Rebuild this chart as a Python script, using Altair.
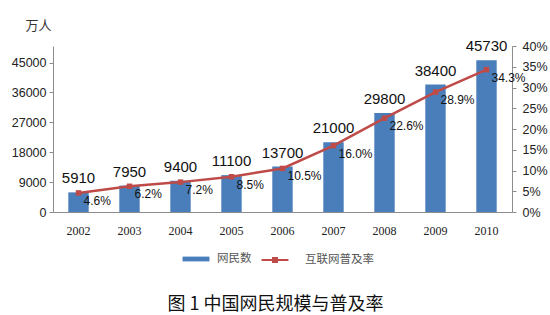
import altair as alt
import pandas as pd

years = ["2002", "2003", "2004", "2005", "2006", "2007", "2008", "2009", "2010"]
netizens = [5910, 7950, 9400, 11100, 13700, 21000, 29800, 38400, 45730]
rates = [4.6, 6.2, 7.2, 8.5, 10.5, 16.0, 22.6, 28.9, 34.3]
left_ticks = [0, 9000, 18000, 27000, 36000, 45000]
right_ticks = [0, 5, 10, 15, 20, 25, 30, 35, 40]
bar_name = "网民数"
line_name = "互联网普及率"
caption = "图 1 中国网民规模与普及率"

df = pd.DataFrame({"year": years, "netizens": netizens, "rate": rates})

BLUE = "#4A7EBB"
RED = "#BE4B48"
AXIS = "#8C8C8C"

base = alt.Chart(df).encode(
    x=alt.X(
        "year:N",
        scale=alt.Scale(paddingInner=0.6, paddingOuter=0.3),
        axis=alt.Axis(
            title=None, labelAngle=0, ticks=False, domainColor=AXIS,
            labelFont="Liberation Serif", labelFontSize=12, labelPadding=13,
            labelColor="#222",
        ),
    )
)

yleft = alt.Y(
    "netizens:Q",
    scale=alt.Scale(domain=[0, 50000], nice=False),
    axis=alt.Axis(
        values=left_ticks, tickCount=len(left_ticks), grid=False,
        domainColor=AXIS, tickColor=AXIS,
        tickSize=4, labelFont="Liberation Sans", labelFontSize=12.5,
        labelColor="#222", labelPadding=3, format="d", labelOverlap=False,
        title="万人", titleAngle=0, titleX=-15, titleY=-21,
        titleAlign="center", titleBaseline="middle",
        titleFont="Noto Sans CJK SC", titleFontSize=13,
        titleFontWeight="normal", titleColor="#333",
    ),
)

bars = base.mark_bar().encode(
    y=yleft,
    color=alt.Color(
        "s1:N",
        scale=alt.Scale(domain=[bar_name], range=[BLUE]),
        legend=alt.Legend(
            title=None, orient="none", legendX=133, legendY=203,
            symbolType="M-1.4,-0.25H1.4V0.25H-1.4Z", symbolSize=369,
            symbolStrokeWidth=0, labelOffset=11, padding=0,
            labelFont="Noto Sans CJK SC", labelFontSize=11.5, labelColor="#555",
        ),
    ),
).transform_calculate(s1="'" + bar_name + "'")

bar_text = base.mark_text(
    baseline="alphabetic", dy=-9, fontSize=15, font="Liberation Sans", color="#111"
).encode(y=alt.Y("netizens:Q"), text=alt.Text("netizens:Q", format="d"))

yright = alt.Y(
    "rate:Q",
    scale=alt.Scale(domain=[0, 40], nice=False),
    axis=alt.Axis(
        orient="right", values=right_ticks, tickCount=len(right_ticks),
        grid=False, domainColor=AXIS,
        tickColor=AXIS, tickSize=4, labelFont="Liberation Sans",
        labelFontSize=12.5, labelColor="#222", labelPadding=6,
        labelOverlap=False,
        labelExpr="datum.value + '%'", title=None,
    ),
)

line = base.mark_line(strokeWidth=2.5).encode(
    y=yright,
    stroke=alt.Stroke(
        "s2:N",
        scale=alt.Scale(domain=[line_name], range=[RED]),
        legend=alt.Legend(
            title=None, orient="none", legendX=211, legendY=203,
            symbolType="M-1.4,0H1.4M-0.2,-0.2H0.2V0.2H-0.2Z", symbolSize=369,
            symbolStrokeWidth=2.2, labelOffset=19, padding=0,
            labelFont="Noto Sans CJK SC", labelFontSize=11.5, labelColor="#555",
        ),
    ),
).transform_calculate(s2="'" + line_name + "'")

points = base.mark_point(shape="square", filled=True, size=30, color=RED, opacity=1).encode(
    y=alt.Y("rate:Q")
)

rate_text = base.mark_text(
    align="left", baseline="middle", dx=5, dy=8, fontSize=12,
    font="Liberation Sans", color="#111",
).encode(y=alt.Y("rate:Q"), text="label:N").transform_calculate(
    label="format(datum.rate, '.1f') + '%'"
)

left = alt.layer(bars, bar_text)
right = alt.layer(line, points, rate_text)

chart = (
    alt.layer(left, right)
    .resolve_scale(y="independent", color="independent", stroke="independent")
    .properties(
        width=459, height=166,
        padding={"left": 53, "top": 46, "right": 38, "bottom": 103},
        autosize="none",
        background="white",
        title=alt.TitleParams(
            caption, orient="bottom", offset=37, dx=-7, dy=-8,
            font="Noto Sans CJK SC", fontSize=18, fontWeight="normal",
            color="#111",
        ),
    )
    .configure_view(stroke=None)
)

chart.save("out.html", embed_options={"renderer": "svg", "actions": False})
